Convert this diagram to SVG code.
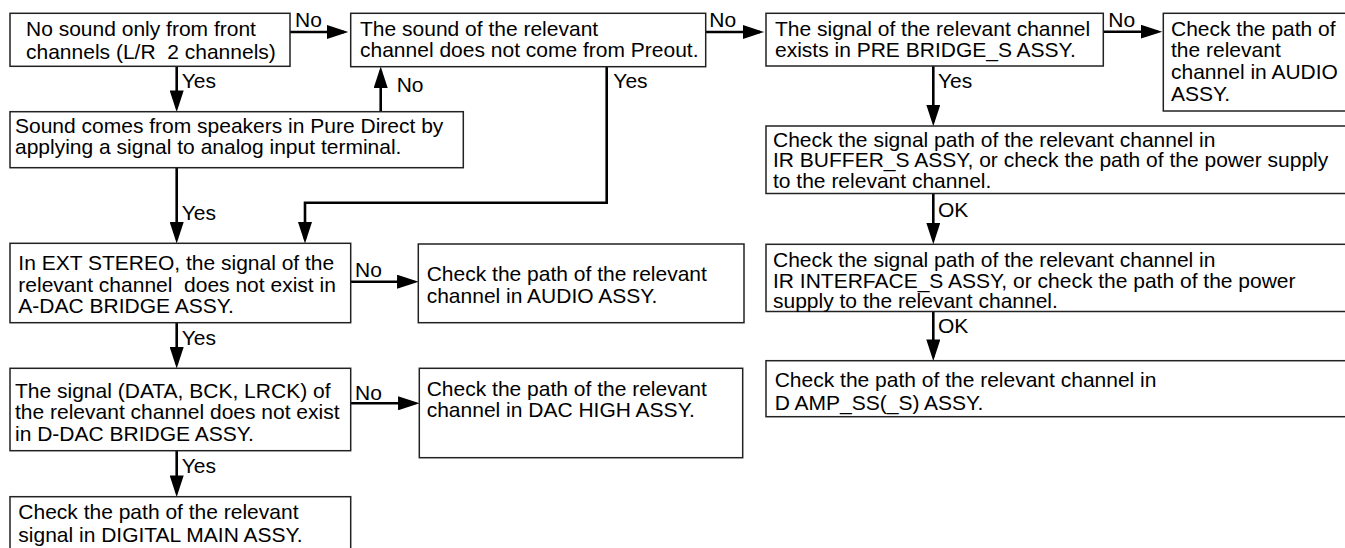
<svg xmlns="http://www.w3.org/2000/svg" width="1345" height="548" viewBox="0 0 1345 548">
<style>
.box{fill:#fff;stroke:#222;stroke-width:1.5}
text{font-family:"Liberation Sans",Arial,Helvetica,sans-serif;font-size:21px;fill:#000}
.c{fill:none;stroke:#000;stroke-width:2.6}
</style>
<defs>
<marker id="ah" markerUnits="userSpaceOnUse" markerWidth="22" markerHeight="14" viewBox="0 0 20 13" refX="16" refY="6.5" orient="auto">
<path d="M0,0 L20,6.5 L0,13 Z" fill="#000"/>
</marker>
</defs>
<rect width="1345" height="548" fill="#fff"/>

<g id="connectors">
<line class="c" x1="290" y1="32" x2="344" y2="32" marker-end="url(#ah)"/>
<line class="c" x1="706" y1="32" x2="760" y2="32" marker-end="url(#ah)"/>
<line class="c" x1="1103.3" y1="31.7" x2="1158" y2="31.7" marker-end="url(#ah)"/>
<line class="c" x1="176.7" y1="66" x2="176.7" y2="107.7" marker-end="url(#ah)"/>
<line class="c" x1="380.7" y1="111.7" x2="380.7" y2="70.7" marker-end="url(#ah)"/>
<polyline class="c" points="606.7,66.7 606.7,202.7 305,202.7 305,239.3" marker-end="url(#ah)"/>
<line class="c" x1="176.7" y1="167.7" x2="176.7" y2="239.3" marker-end="url(#ah)"/>
<line class="c" x1="350.7" y1="281.7" x2="414.3" y2="281.7" marker-end="url(#ah)"/>
<line class="c" x1="176.7" y1="322.7" x2="176.7" y2="364.3" marker-end="url(#ah)"/>
<line class="c" x1="350.7" y1="403.3" x2="415.3" y2="403.3" marker-end="url(#ah)"/>
<line class="c" x1="176.7" y1="450.7" x2="176.7" y2="492.7" marker-end="url(#ah)"/>
<line class="c" x1="933.3" y1="66" x2="933.3" y2="122" marker-end="url(#ah)"/>
<line class="c" x1="933.3" y1="193.5" x2="933.3" y2="240" marker-end="url(#ah)"/>
<line class="c" x1="933.3" y1="311.5" x2="933.3" y2="356.7" marker-end="url(#ah)"/>
<text x="295" y="26.7">No</text>
<text x="709.3" y="26.7">No</text>
<text x="1108.3" y="26.7">No</text>
<text x="181.7" y="88.3">Yes</text>
<text x="396.7" y="91.7">No</text>
<text x="613.3" y="88.3">Yes</text>
<text x="938" y="88">Yes</text>
<text x="181.7" y="220">Yes</text>
<text x="355" y="277.3">No</text>
<text x="181.7" y="345">Yes</text>
<text x="355" y="400">No</text>
<text x="181.7" y="473.3">Yes</text>
<text x="938" y="216.7">OK</text>
<text x="938" y="333.3">OK</text>
</g>

<g id="nodeA">
<rect class="box" x="10" y="13.3" width="280" height="53"/>
<text x="26" y="36">No sound only from front</text>
<text x="26" y="59" xml:space="preserve">channels (L/R  2 channels)</text>
</g>
<g id="nodeB">
<rect class="box" x="350.7" y="13.3" width="355" height="53.4"/>
<text x="360" y="35.7">The sound of the relevant</text>
<text x="360" y="57">channel does not come from Preout.</text>
</g>
<g id="nodeC">
<rect class="box" x="766" y="13.3" width="337.3" height="52.7"/>
<text x="775" y="35.7">The signal of the relevant channel</text>
<text x="775" y="56.7">exists in PRE BRIDGE_S ASSY.</text>
</g>
<g id="nodeD">
<rect class="box" x="1163.3" y="13.3" width="200" height="97.7"/>
<text x="1171" y="36">Check the path of</text>
<text x="1171" y="57.3">the relevant</text>
<text x="1171" y="79.3">channel in AUDIO</text>
<text x="1171" y="101">ASSY.</text>
</g>
<g id="nodeE">
<rect class="box" x="766" y="126" width="600" height="67.5"/>
<text x="773" y="146.5">Check the signal path of the relevant channel in</text>
<text x="773" y="167">IR BUFFER_S ASSY, or check the path of the power supply</text>
<text x="773" y="187.5">to the relevant channel.</text>
</g>
<g id="nodeF">
<rect class="box" x="766" y="244.3" width="600" height="67.2"/>
<text x="773" y="266.7">Check the signal path of the relevant channel in</text>
<text x="773" y="288.3">IR INTERFACE_S ASSY, or check the path of the power</text>
<text x="773" y="308.3">supply to the relevant channel.</text>
</g>
<g id="nodeG">
<rect class="box" x="766" y="360.7" width="600" height="56"/>
<text x="774.7" y="387.3">Check the path of the relevant channel in</text>
<text x="774.7" y="410">D AMP_SS(_S) ASSY.</text>
</g>
<g id="nodeH">
<rect class="box" x="10" y="111.7" width="453.3" height="56"/>
<text x="15" y="133.3">Sound comes from speakers in Pure Direct by</text>
<text x="15" y="154">applying a signal to analog input terminal.</text>
</g>
<g id="nodeI">
<rect class="box" x="10" y="243.3" width="340.7" height="79.4"/>
<text x="18.3" y="270">In EXT STEREO, the signal of the</text>
<text x="18.3" y="291.7" xml:space="preserve">relevant channel  does not exist in</text>
<text x="18.3" y="312.7">A-DAC BRIDGE ASSY.</text>
</g>
<g id="nodeJ">
<rect class="box" x="418.3" y="244" width="325.7" height="78.7"/>
<text x="426.7" y="280.7">Check the path of the relevant</text>
<text x="426.7" y="302.7">channel in AUDIO ASSY.</text>
</g>
<g id="nodeK">
<rect class="box" x="10" y="368.3" width="340.7" height="82.4"/>
<text x="15" y="397.7">The signal (DATA, BCK, LRCK) of</text>
<text x="15" y="419.3">the relevant channel does not exist</text>
<text x="15" y="441">in D-DAC BRIDGE ASSY.</text>
</g>
<g id="nodeL">
<rect class="box" x="419.3" y="368.3" width="323.4" height="89.4"/>
<text x="426.7" y="396">Check the path of the relevant</text>
<text x="426.7" y="416.5">channel in DAC HIGH ASSY.</text>
</g>
<g id="nodeM">
<rect class="box" x="10" y="496.7" width="340.7" height="60"/>
<text x="18.3" y="519.3">Check the path of the relevant</text>
<text x="18.3" y="541.7">signal in DIGITAL MAIN ASSY.</text>
</g>
</svg>
